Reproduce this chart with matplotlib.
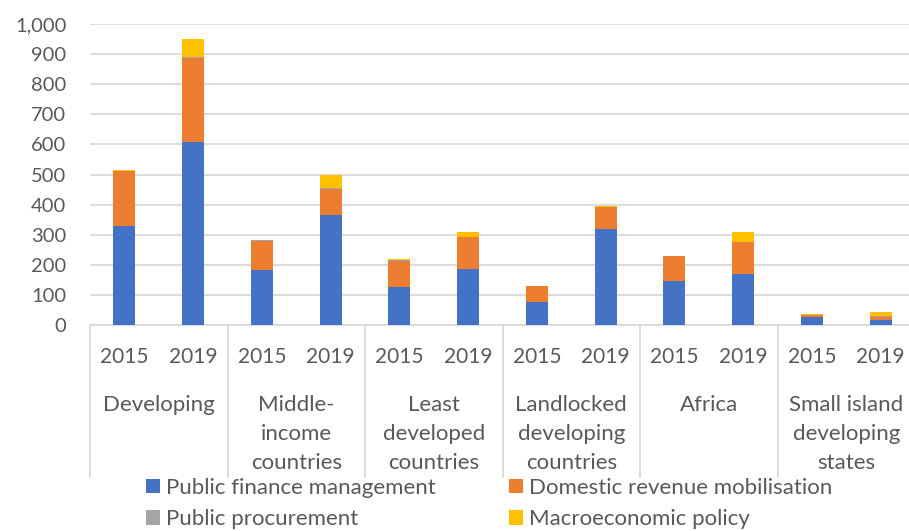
import matplotlib
matplotlib.use("Agg")
import matplotlib.pyplot as plt
from matplotlib.patches import Patch
from matplotlib.ticker import FuncFormatter

plt.rcParams['font.family'] = ['Lato', 'DejaVu Sans']

groups = ["Developing", "Middle-\nincome\ncountries", "Least\ndeveloped\ncountries",
          "Landlocked\ndeveloping\ncountries", "Africa", "Small island\ndeveloping\nstates"]
years = ["2015", "2019"]
pfm = [329, 609, 183, 367, 127, 187, 76, 318, 147, 169, 26, 16]
drm = [183, 277, 97, 86, 87, 105, 52, 74, 81, 107, 7, 11]
procurement = [1, 3, 1, 2, 1, 1, 1, 1, 1, 1, 1, 2]
macro = [1, 60, 1, 43, 3, 17, 1, 3, 1, 33, 1, 14]
series_names = ["Public finance management", "Domestic revenue mobilisation",
                "Public procurement", "Macroeconomic policy"]
colors = ["#4472C4", "#ED7D31", "#A5A5A5", "#FFC000"]

W, H = 909, 531
fig = plt.figure(figsize=(W/100, H/100), dpi=100)
ax_top, ax_bot = 24, 325
ax = fig.add_axes([90/W, (H-ax_bot)/H, 825/W, (ax_bot-ax_top)/H])

x = list(range(len(pfm)))
bottom = [0]*len(pfm)
for vals, c in zip([pfm, drm, procurement, macro], colors):
    ax.bar(x, vals, bottom=bottom, width=0.32, color=c, zorder=3)
    bottom = [b+v for b, v in zip(bottom, vals)]

ax.set_xlim(-0.5, 11.5)
ax.set_ylim(0, 1000)
ax.set_yticks(range(0, 1001, 100))
ax.yaxis.set_major_formatter(FuncFormatter(lambda v, p: f"{int(v):,}"))
ax.tick_params(axis='y', length=0, labelsize=14.5, labelcolor="#595959", pad=17)
ax.grid(axis='y', color="#d9d9d9", linewidth=1.3, zorder=0)
ax.set_xticks([])
for s in ["top", "right", "left"]:
    ax.spines[s].set_visible(False)
ax.spines["bottom"].set_color("#d9d9d9")
ax.spines["bottom"].set_linewidth(1.3)

trans = ax.get_xaxis_transform()
def ay(py):
    return (ax_bot - py) / (ax_bot - ax_top)

# year labels
for i in x:
    ax.text(i, ay(355), years[i % 2], transform=trans, ha='center', va='center_baseline',
            fontsize=15, color="#595959")
# group labels (one text per line)
for g, name in enumerate(groups):
    for k, line in enumerate(name.split("\n")):
        ax.text(2*g + 0.5, ay(403 + 29*k), line, transform=trans, ha='center',
                va='center_baseline', fontsize=16, color="#595959")
# separators
for g in range(7):
    xs = 2*g - 0.5
    ax.plot([xs, xs], [0, ay(477)], transform=trans, color="#d9d9d9",
            linewidth=1.3, clip_on=False)

handles = [Patch(facecolor=c) for c in colors]
order = [0, 2, 1, 3]
fig.legend([handles[i] for i in order], [series_names[i] for i in order], ncol=2,
           loc='upper left', bbox_to_anchor=(146/W, 1 - 478/H), frameon=False,
           borderpad=0, borderaxespad=0,
           fontsize=16, labelcolor="#595959", handlelength=0.63, handleheight=0.63,
           handletextpad=0.27, columnspacing=3.3, labelspacing=0.5)

fig.savefig("out.png", dpi=100)
